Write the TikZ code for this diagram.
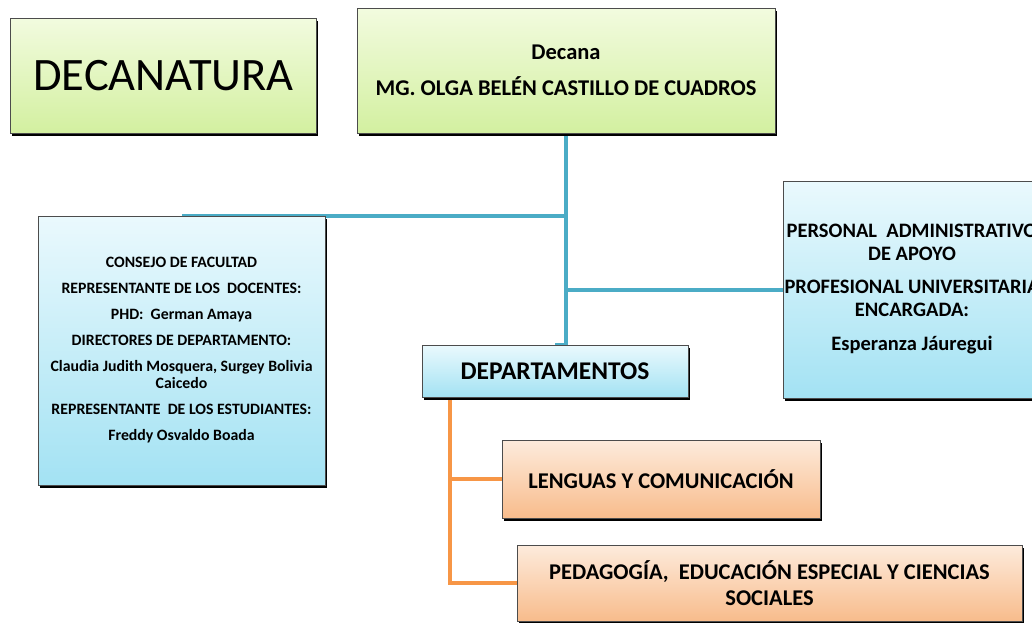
\documentclass[tikz,border=0pt]{standalone}
\usepackage{fontspec}
\setmainfont{Carlito}
\usetikzlibrary{shadows,backgrounds}
\definecolor{gtop}{HTML}{F2FBDF}
\definecolor{gbot}{HTML}{D3F0A0}
\definecolor{btop}{HTML}{EAF9FD}
\definecolor{bbot}{HTML}{A3E2F3}
\definecolor{otop}{HTML}{FDEBDC}
\definecolor{obot}{HTML}{F8BC8C}
\definecolor{bline}{HTML}{4BACC6}
\definecolor{oline}{HTML}{F79646}
\tikzset{
  box/.style={draw=black!70, line width=0.6pt, inner sep=0pt, align=center,
    general shadow={fill=black, shadow xshift=1.5pt, shadow yshift=-3pt}},
  greenbox/.style={box, top color=gtop, bottom color=gbot},
  bluebox/.style={box, top color=btop, bottom color=bbot},
  orangebox/.style={box, top color=otop, bottom color=obot},
  blueline/.style={draw=bline, line width=4pt},
  orangeline/.style={draw=oline, line width=3.5pt},
}
\begin{document}
\begin{tikzpicture}[x=1pt,y=-1pt]
\useasboundingbox (0,0) rectangle (1032,622);
\node[greenbox, minimum width=306pt, minimum height=115pt,
  font=\fontsize{46.5}{50}\selectfont] (deca) at (163.5,75.5)
  {DECANATURA};
\node[greenbox, minimum width=418pt, minimum height=125pt,
  font=\fontsize{22.5}{27}\selectfont\bfseries] (decana) at (566,70.5)
  {Decana\\[9pt]
   MG. OLGA BELÉN CASTILLO DE CUADROS};
\node[bluebox, minimum width=287pt, minimum height=269pt,
  font=\fontsize{15.8}{17}\selectfont\bfseries] (consejo) at (181.5,350.5)
  {CONSEJO DE FACULTAD\\[9pt]
   REPRESENTANTE DE LOS\ \ DOCENTES:\\[9pt]
   PHD:\ \ German Amaya\\[9pt]
   DIRECTORES DE DEPARTAMENTO:\\[9pt]
   Claudia Judith Mosquera, Surgey Bolivia\\
   Caicedo\\[9pt]
   REPRESENTANTE\ \ DE LOS ESTUDIANTES:\\[9pt]
   Freddy Osvaldo Boada};
\node[bluebox, minimum width=258pt, minimum height=217pt,
  font=\fontsize{20.5}{23}\selectfont\bfseries] (personal) at (912,289.5)
  {PERSONAL\ \ ADMINISTRATIVO\\
   DE APOYO\\[10pt]
   PROFESIONAL UNIVERSITARIA\\
   ENCARGADA:\\[11pt]
   Esperanza Jáuregui};
\node[bluebox, minimum width=266pt, minimum height=52pt,
  font=\fontsize{25.5}{28}\selectfont\bfseries] (dep) at (555,371)
  {DEPARTAMENTOS};
\node[orangebox, minimum width=318pt, minimum height=78pt,
  font=\fontsize{22.5}{26}\selectfont\bfseries] (leng) at (661,479)
  {LENGUAS Y COMUNICACIÓN};
\node[orangebox, minimum width=505pt, minimum height=76pt,
  font=\fontsize{22.5}{26}\selectfont\bfseries] (ped) at (769.5,583)
  {PEDAGOGÍA,\ \ EDUCACIÓN ESPECIAL Y CIENCIAS\\
   SOCIALES};
\coordinate (ox) at (450,0);
\begin{scope}[on background layer]
\draw[blueline] (decana.south) |- (dep.north);
\draw[blueline] (decana.south |- consejo.north) -- (consejo.north);
\draw[blueline] (decana.south |- personal.west) -- (personal.west);
\draw[orangeline] (dep.south -| ox) |- (leng.west);
\draw[orangeline] (dep.south -| ox) |- (ped.west);
\end{scope}
\end{tikzpicture}
\end{document}
